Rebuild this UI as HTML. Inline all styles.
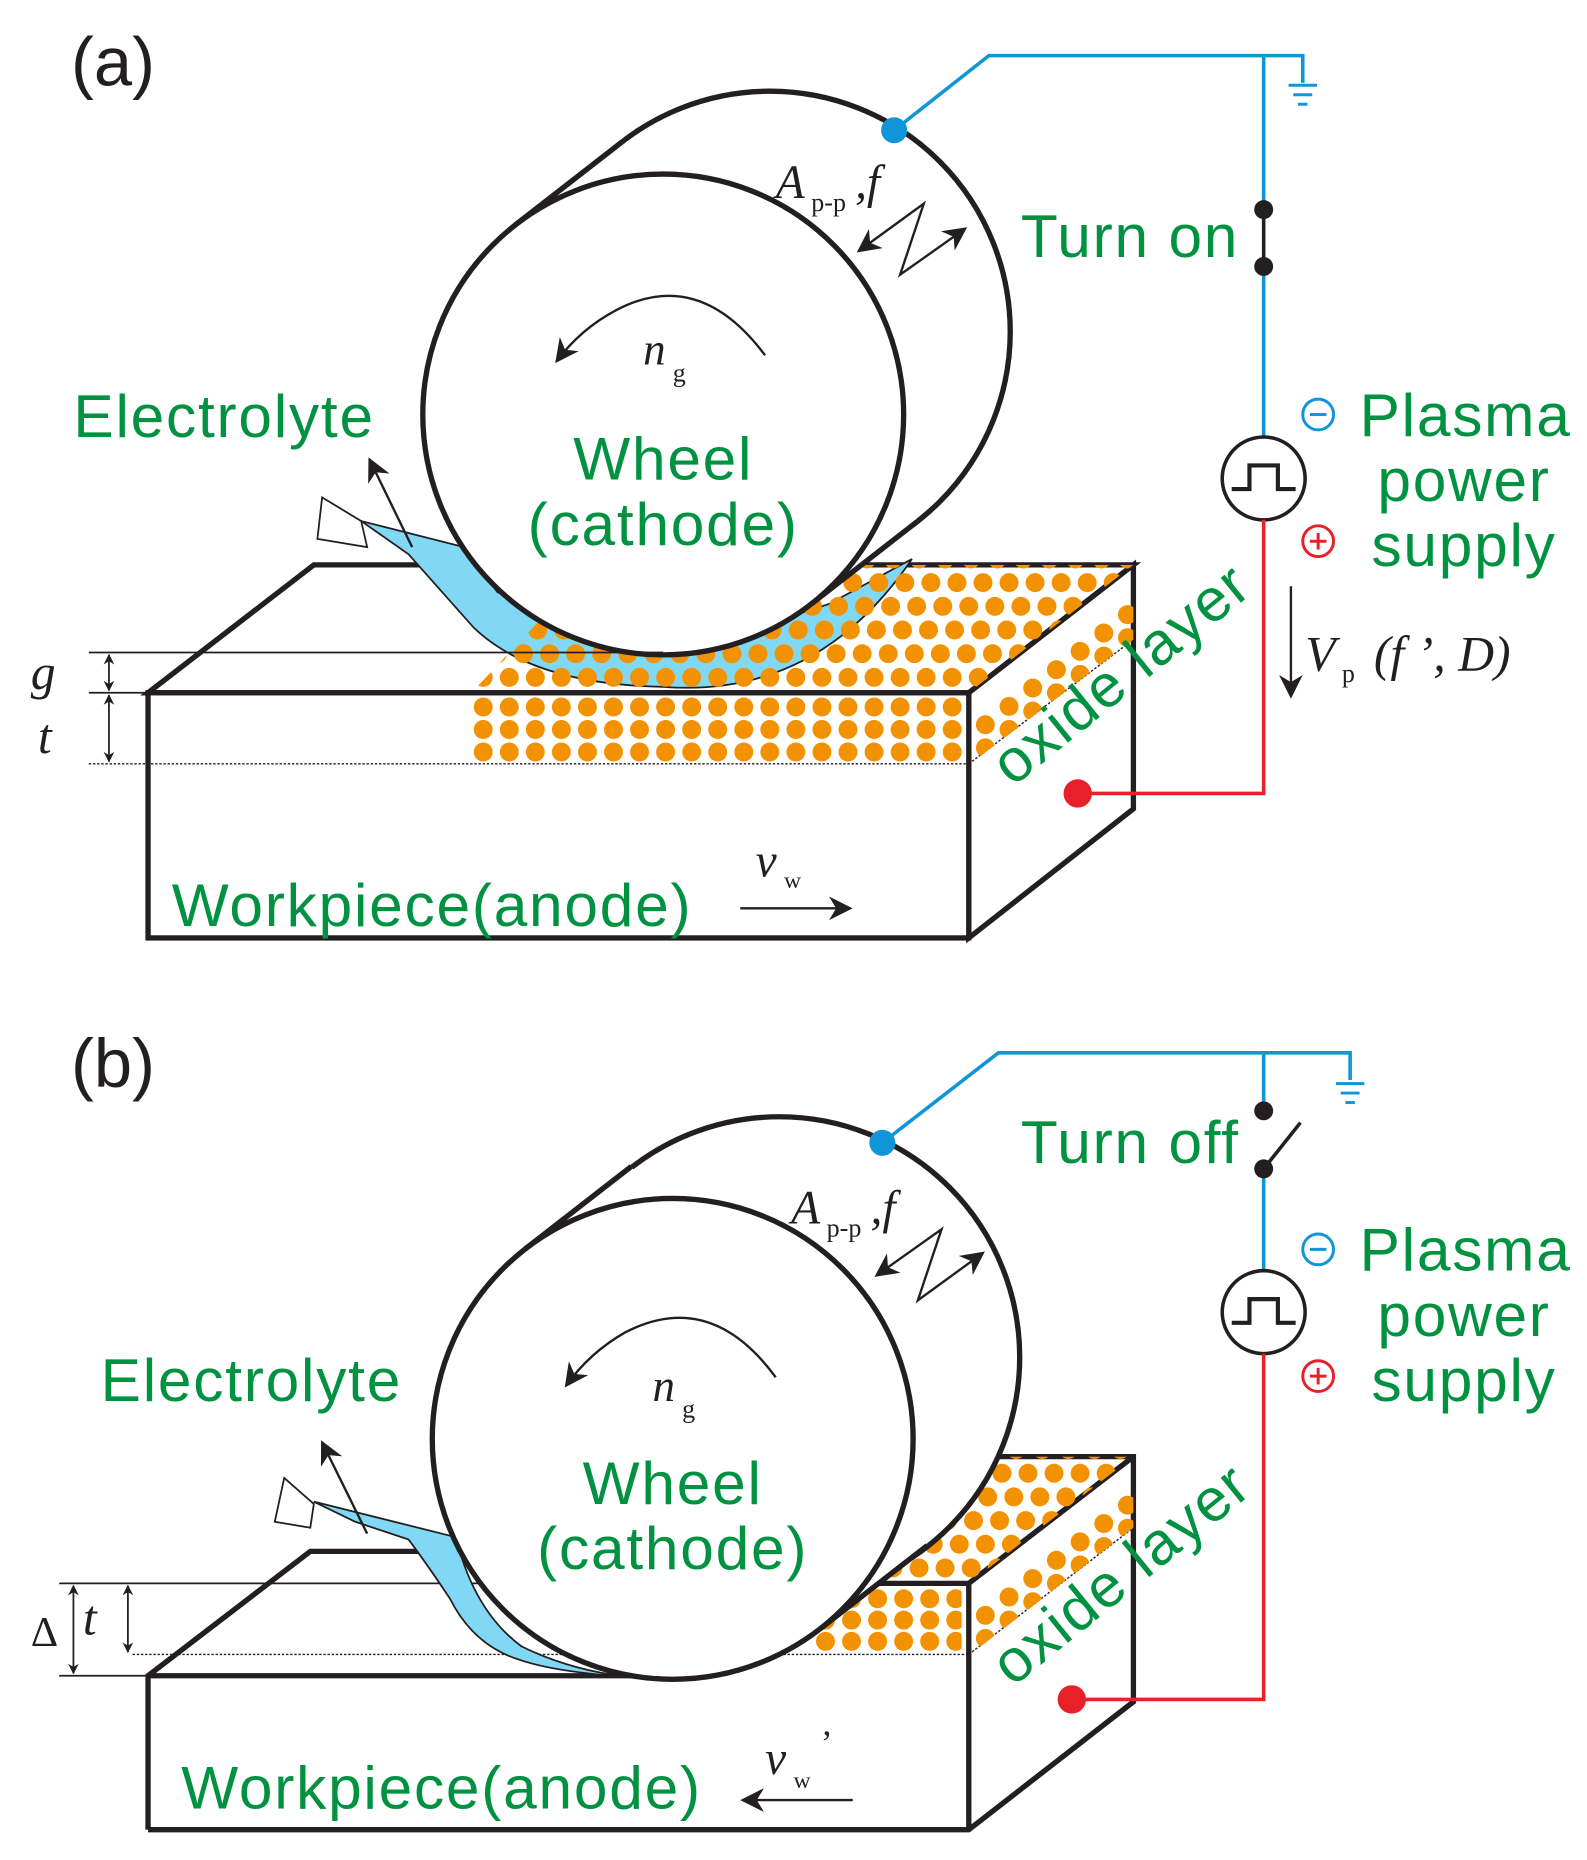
<!DOCTYPE html>
<html><head><meta charset="utf-8"><style>
html,body{margin:0;padding:0;background:#fff;}
svg{display:block;}
.g{fill:#009240;font-family:"Liberation Sans",sans-serif;font-size:51px;letter-spacing:1.5px;}
.s{font-family:"Liberation Serif",serif;font-style:italic;fill:#231f20;}
.k{stroke:#231f20;}
</style></head><body>
<svg id="svg" width="1587" height="1860" viewBox="0 0 1340 1570.6" preserveAspectRatio="none" xmlns="http://www.w3.org/2000/svg">
<defs>
<marker id="ah" viewBox="0 0 10 10" refX="9" refY="5" markerWidth="9" markerHeight="9" markerUnits="userSpaceOnUse" orient="auto-start-reverse"><path d="M0,0 L10,5 L0,10 L3,5 z" fill="#231f20"/></marker>
<marker id="ah2" viewBox="0 0 10 10" refX="9" refY="5" markerWidth="20" markerHeight="20" markerUnits="userSpaceOnUse" orient="auto-start-reverse"><path d="M0,0 L10,5 L0,10 L3,5 z" fill="#231f20"/></marker>
<clipPath id="ca1"><polygon points="398,585 818,585 957,477 500,477"/></clipPath>
<clipPath id="ca2"><polygon points="396,588 812,588 812,645 396,645"/></clipPath>
<clipPath id="ca3"><polygon points="822,588 957,484 957,540 822,643"/></clipPath>
<clipPath id="cb1"><polygon points="690,1337 818,1337 957,1230 830,1230"/></clipPath>
<clipPath id="cb2"><polygon points="680,1340 812,1340 812,1397 680,1397"/></clipPath>
<clipPath id="cb3"><polygon points="822,1340 957,1236 957,1290 822,1395"/></clipPath>
</defs>

<!-- ================= PANEL A ================= -->
<text x="60" y="72" font-family="Liberation Sans,sans-serif" font-size="58" fill="#231f20">(a)</text>

<polygon points="125,585 265,477 957,477 818,585" style="fill:#fff" class="k" stroke-width="4.5"/>
<polygon points="818,585 957,477 957,683 818,792" style="fill:#fff" class="k" stroke-width="4.5"/>
<rect x="125" y="585" width="693" height="207" style="fill:#fff" class="k" stroke-width="4.5"/>
<line x1="75" y1="645" x2="818" y2="645" stroke="#231f20" stroke-width="1.2" stroke-dasharray="2,1.5"/>
<line x1="818" y1="645" x2="957" y2="540" stroke="#231f20" stroke-width="1.2" stroke-dasharray="2,1.5"/>

<path d="M305,440 L392,462 L420,500 Q560,560 700,510 L770,472 Q690,590 560,580 Q450,578 400,530 L345,468 Z" fill="#80d8f5" stroke="#231f20" stroke-width="1.5"/>
<polygon points="272,420 305,440 310,462 268,455" fill="#fff" stroke="#231f20" stroke-width="1.5"/>

<g id="dotsA1" clip-path="url(#ca1)" fill="#f39200"></g>
<g id="dotsA2" clip-path="url(#ca2)" fill="#f39200"></g>
<g id="dotsA3" clip-path="url(#ca3)" fill="#f39200"></g>

<circle cx="650" cy="280" r="203" style="fill:#fff" class="k" stroke-width="4.5"/>
<polygon points="435,190 525,120 775,440 685,510" fill="#fff"/>
<line x1="435" y1="190" x2="525" y2="120" stroke="#231f20" stroke-width="4.5"/>
<line x1="685" y1="510" x2="775" y2="440" stroke="#231f20" stroke-width="4.5"/>
<circle cx="560" cy="350" r="203" style="fill:#fff" class="k" stroke-width="4.5"/>

<line x1="348" y1="462" x2="312" y2="388" stroke="#231f20" stroke-width="2" marker-end="url(#ah2)"/>
<text x="62" y="369" class="g">Electrolyte</text>
<text x="560" y="405" class="g" text-anchor="middle">Wheel</text>
<text x="560" y="460" class="g" text-anchor="middle">(cathode)</text>
<path d="M646,300 Q590,225 520,262 Q490,278 470,305" fill="none" class="k" stroke-width="2" marker-end="url(#ah2)"/>
<text x="543" y="308" class="s" font-size="38">n</text><text x="568" y="322" font-family="Liberation Serif,serif" font-size="22" fill="#231f20">g</text>
<text x="655" y="167" class="s" font-size="40">A</text><text x="685" y="178" font-family="Liberation Serif,serif" font-size="22" fill="#231f20">p-p</text><text x="722" y="167" class="s" font-size="40">,f</text>
<polyline points="725,212 780,172 760,232 815,193" fill="none" class="k" stroke-width="2" marker-start="url(#ah2)" marker-end="url(#ah2)"/>

<polyline points="755,110 835,47 1100,47 1100,70" fill="none" stroke="#0f95d8" stroke-width="3"/>
<line x1="1088" y1="72" x2="1112" y2="72" stroke="#0f95d8" stroke-width="2.5"/>
<line x1="1092" y1="80" x2="1108" y2="80" stroke="#0f95d8" stroke-width="2.5"/>
<line x1="1096" y1="88" x2="1104" y2="88" stroke="#0f95d8" stroke-width="2.5"/>
<line x1="1067" y1="47" x2="1067" y2="177" stroke="#0f95d8" stroke-width="3"/>
<line x1="1067" y1="177" x2="1067" y2="225" stroke="#231f20" stroke-width="3"/>
<line x1="1067" y1="225" x2="1067" y2="370" stroke="#0f95d8" stroke-width="3"/>
<circle cx="1067" cy="177" r="8" fill="#231f20"/><circle cx="1067" cy="225" r="8" fill="#231f20"/>
<circle cx="755" cy="110" r="11" fill="#0f95d8"/>
<circle cx="1067" cy="404" r="35" fill="#fff" stroke="#231f20" stroke-width="3"/>
<polyline points="1040,413 1055,413 1055,393 1079,393 1079,413 1094,413" fill="none" stroke="#231f20" stroke-width="3.5"/>
<polyline points="1067,439 1067,670 910,670" fill="none" stroke="#e8202a" stroke-width="3"/>
<circle cx="910" cy="670" r="12" fill="#e8202a"/>

<text x="862" y="217" class="g" letter-spacing="3">Turn  on</text>
<circle cx="1113" cy="350" r="13" fill="none" stroke="#0f95d8" stroke-width="2.5"/><line x1="1106" y1="350" x2="1120" y2="350" stroke="#0f95d8" stroke-width="2.5"/>
<text x="1148" y="368" class="g">Plasma</text>
<text x="1163" y="423" class="g">power</text>
<circle cx="1113" cy="457" r="13" fill="none" stroke="#e8202a" stroke-width="2.5"/><line x1="1106" y1="457" x2="1120" y2="457" stroke="#e8202a" stroke-width="2.5"/><line x1="1113" y1="450" x2="1113" y2="464" stroke="#e8202a" stroke-width="2.5"/>
<text x="1158" y="478" class="g">supply</text>
<line x1="1090" y1="495" x2="1090" y2="588" stroke="#231f20" stroke-width="2" marker-end="url(#ah2)"/>
<text x="1102" y="566" class="s" font-size="42">V</text><text x="1133" y="576" font-family="Liberation Serif,serif" font-size="22" fill="#231f20">p</text>
<text x="1160" y="566" class="s" font-size="42">(f ’, D)</text>
<text x="855" y="665" class="g" transform="rotate(-39 855 665)">oxide layer</text>

<line x1="75" y1="551" x2="560" y2="551" stroke="#231f20" stroke-width="1.5"/>
<line x1="75" y1="585" x2="125" y2="585" stroke="#231f20" stroke-width="1.5"/>
<line x1="92" y1="553" x2="92" y2="583" stroke="#231f20" stroke-width="1.5" marker-start="url(#ah)" marker-end="url(#ah)"/>
<line x1="92" y1="587" x2="92" y2="643" stroke="#231f20" stroke-width="1.5" marker-start="url(#ah)" marker-end="url(#ah)"/>
<text x="26" y="582" class="s" font-size="42">g</text>
<text x="32" y="636" class="s" font-size="42">t</text>

<text x="638" y="740" class="s" font-size="40">v</text><text x="662" y="750" font-family="Liberation Serif,serif" font-size="20" fill="#231f20">w</text>
<line x1="625" y1="767" x2="718" y2="767" stroke="#231f20" stroke-width="2" marker-end="url(#ah2)"/>
<text x="145" y="782" class="g">Workpiece(anode)</text>

<!-- ================= PANEL B ================= -->
<text x="60" y="918" font-family="Liberation Sans,sans-serif" font-size="58" fill="#231f20">(b)</text>

<polygon points="125,1415 262,1310 700,1310 760,1337 818,1337 957,1230 957,1437 818,1545 125,1545" fill="#fff"/>
<polyline points="125,1545 125,1415 262,1310 380,1310" fill="none" class="k" stroke-width="4.5"/>
<polyline points="840,1230 957,1230 957,1437 818,1545 125,1545" fill="none" class="k" stroke-width="4.5"/>
<polyline points="740,1337 818,1337 957,1230" fill="none" class="k" stroke-width="4.5"/>
<line x1="818" y1="1337" x2="818" y2="1545" stroke="#231f20" stroke-width="4.5"/>
<line x1="125" y1="1415" x2="600" y2="1415" stroke="#231f20" stroke-width="4.5"/>
<line x1="50" y1="1337" x2="818" y2="1337" stroke="#231f20" stroke-width="1.5"/>
<line x1="50" y1="1415" x2="125" y2="1415" stroke="#231f20" stroke-width="1.5"/>
<line x1="112" y1="1397" x2="818" y2="1397" stroke="#231f20" stroke-width="1.2" stroke-dasharray="2,1.5"/>
<line x1="818" y1="1397" x2="957" y2="1290" stroke="#231f20" stroke-width="1.2" stroke-dasharray="2,1.5"/>

<g id="dotsB1" clip-path="url(#cb1)" fill="#f39200"></g>
<g id="dotsB2" clip-path="url(#cb2)" fill="#f39200"></g>
<g id="dotsB3" clip-path="url(#cb3)" fill="#f39200"></g>

<path d="M265,1268 L385,1298 Q400,1360 440,1390 Q480,1410 530,1416 Q470,1412 440,1402 Q400,1390 380,1350 Q360,1320 345,1300 L300,1285 Z" fill="#80d8f5" stroke="#231f20" stroke-width="1.5"/>
<polygon points="240,1248 265,1270 262,1290 232,1285" fill="#fff" stroke="#231f20" stroke-width="1.5"/>

<circle cx="658" cy="1146" r="203" style="fill:#fff" class="k" stroke-width="4.5"/>
<polygon points="443,1055 533,985 783,1305 693,1375" fill="#fff"/>
<line x1="443" y1="1055" x2="533" y2="985" stroke="#231f20" stroke-width="4.5"/>
<line x1="693" y1="1375" x2="783" y2="1305" stroke="#231f20" stroke-width="4.5"/>
<circle cx="568" cy="1215" r="203" style="fill:#fff" class="k" stroke-width="4.5"/>

<line x1="310" y1="1295" x2="272" y2="1218" stroke="#231f20" stroke-width="2" marker-end="url(#ah2)"/>
<text x="85" y="1183" class="g">Electrolyte</text>
<text x="568" y="1270" class="g" text-anchor="middle">Wheel</text>
<text x="568" y="1325" class="g" text-anchor="middle">(cathode)</text>
<path d="M655,1163 Q600,1088 528,1125 Q498,1142 478,1170" fill="none" class="k" stroke-width="2" marker-end="url(#ah2)"/>
<text x="551" y="1183" class="s" font-size="38">n</text><text x="576" y="1197" font-family="Liberation Serif,serif" font-size="22" fill="#231f20">g</text>
<text x="668" y="1033" class="s" font-size="40">A</text><text x="698" y="1044" font-family="Liberation Serif,serif" font-size="22" fill="#231f20">p-p</text><text x="735" y="1033" class="s" font-size="40">,f</text>
<polyline points="740,1077 795,1038 775,1098 830,1058" fill="none" class="k" stroke-width="2" marker-start="url(#ah2)" marker-end="url(#ah2)"/>

<polyline points="745,965 843,889 1140,889 1140,912" fill="none" stroke="#0f95d8" stroke-width="3"/>
<line x1="1128" y1="915" x2="1152" y2="915" stroke="#0f95d8" stroke-width="2.5"/>
<line x1="1132" y1="923" x2="1148" y2="923" stroke="#0f95d8" stroke-width="2.5"/>
<line x1="1136" y1="931" x2="1144" y2="931" stroke="#0f95d8" stroke-width="2.5"/>
<line x1="1067" y1="889" x2="1067" y2="938" stroke="#0f95d8" stroke-width="3"/>
<line x1="1067" y1="987" x2="1098" y2="948" stroke="#231f20" stroke-width="3"/>
<line x1="1067" y1="987" x2="1067" y2="1073" stroke="#0f95d8" stroke-width="3"/>
<circle cx="1067" cy="938" r="8" fill="#231f20"/><circle cx="1067" cy="987" r="8" fill="#231f20"/>
<circle cx="745" cy="965" r="11" fill="#0f95d8"/>
<circle cx="1067" cy="1108" r="35" fill="#fff" stroke="#231f20" stroke-width="3"/>
<polyline points="1040,1117 1055,1117 1055,1097 1079,1097 1079,1117 1094,1117" fill="none" stroke="#231f20" stroke-width="3.5"/>
<polyline points="1067,1143 1067,1435 905,1435" fill="none" stroke="#e8202a" stroke-width="3"/>
<circle cx="905" cy="1435" r="12" fill="#e8202a"/>

<text x="862" y="982" class="g" letter-spacing="3">Turn  off</text>
<circle cx="1113" cy="1055" r="13" fill="none" stroke="#0f95d8" stroke-width="2.5"/><line x1="1106" y1="1055" x2="1120" y2="1055" stroke="#0f95d8" stroke-width="2.5"/>
<text x="1148" y="1073" class="g">Plasma</text>
<text x="1163" y="1128" class="g">power</text>
<circle cx="1113" cy="1162" r="13" fill="none" stroke="#e8202a" stroke-width="2.5"/><line x1="1106" y1="1162" x2="1120" y2="1162" stroke="#e8202a" stroke-width="2.5"/><line x1="1113" y1="1155" x2="1113" y2="1169" stroke="#e8202a" stroke-width="2.5"/>
<text x="1158" y="1183" class="g">supply</text>
<text x="855" y="1425" class="g" transform="rotate(-39 855 1425)">oxide layer</text>

<line x1="62" y1="1339" x2="62" y2="1413" stroke="#231f20" stroke-width="1.5" marker-start="url(#ah)" marker-end="url(#ah)"/>
<line x1="108" y1="1339" x2="108" y2="1395" stroke="#231f20" stroke-width="1.5" marker-start="url(#ah)" marker-end="url(#ah)"/>
<text x="26" y="1390" font-family="Liberation Serif,serif" font-size="36" fill="#231f20">Δ</text>
<text x="70" y="1380" class="s" font-size="42">t</text>

<text x="646" y="1498" class="s" font-size="40">v</text><text x="670" y="1510" font-family="Liberation Serif,serif" font-size="20" fill="#231f20">w</text><text x="693" y="1482" font-family="Liberation Serif,serif" font-size="30" fill="#231f20">’</text>
<line x1="720" y1="1520" x2="627" y2="1520" stroke="#231f20" stroke-width="2" marker-end="url(#ah2)"/>
<text x="153" y="1527" class="g">Workpiece(anode)</text>
</svg>
<script>
(function(){
var NS="http://www.w3.org/2000/svg";
function dot(g,x,y){var c=document.createElementNS(NS,"circle");c.setAttribute("cx",x);c.setAttribute("cy",y);c.setAttribute("r",8);g.appendChild(c);}
function lat(id,x0,y0,dx,dy,sx,nx,ny){var g=document.getElementById(id);for(var j=0;j<ny;j++)for(var i=0;i<nx;i++)dot(g,x0+i*dx+j*sx,y0+j*dy);}
function side(id,y0){var g=document.getElementById(id);for(var j=0;j<8;j++)for(var i=0;i<8;i++)dot(g,832+i*20,y0-i*15.5+j*19.5);}
lat("dotsA1",408,572,22,-20,12,30,6);
lat("dotsA2",408,597,22,19,0,19,3);
side("dotsA3",612);
lat("dotsB1",688,1324,22,-20,12,14,6);
lat("dotsB2",697,1350,22,18,0,6,3);
side("dotsB3",1364);
})();
</script>
</body></html>
